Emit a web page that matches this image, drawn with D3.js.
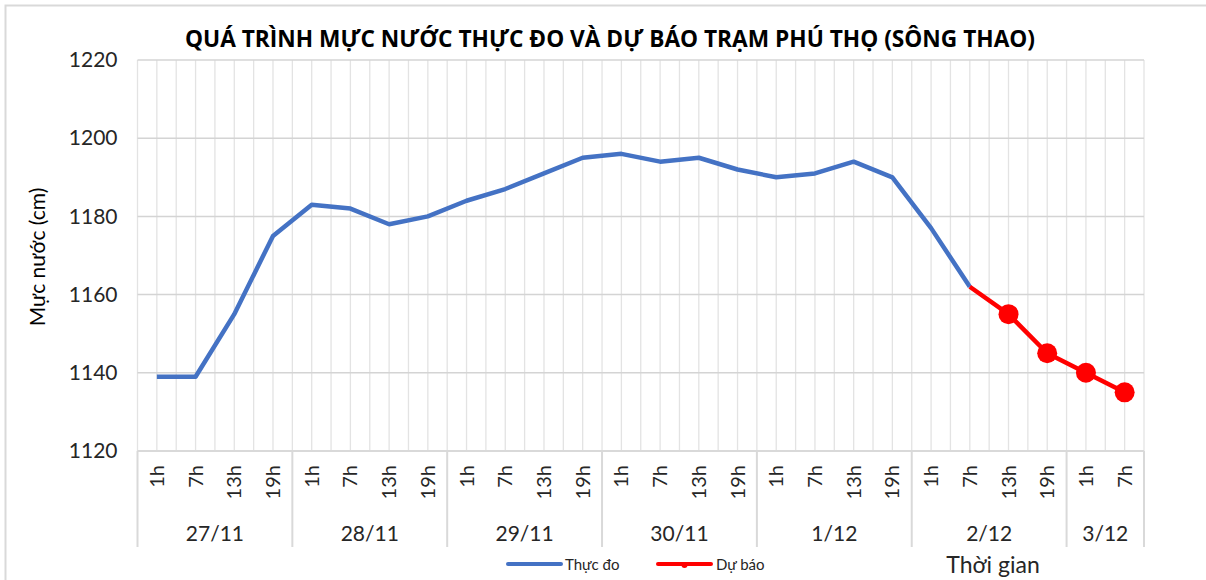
<!DOCTYPE html>
<html>
<head>
<meta charset="utf-8">
<script src="https://cdn.jsdelivr.net/npm/d3@7"></script>
<style>
  body { margin: 0; background: #fff; }
  text { fill: #262626; }
</style>
</head>
<body>
<script>
// Data
const days = ["27/11", "28/11", "29/11", "30/11", "1/12", "2/12", "3/12"];
const hoursPerDay = [4, 4, 4, 4, 4, 4, 2];
const hours = ["1h", "7h", "13h", "19h"];
const measured = [1139, 1139, 1155, 1175, 1183, 1182, 1178, 1180, 1184, 1187, 1191, 1195,
  1196, 1194, 1195, 1192, 1190, 1191, 1194, 1190, 1177, 1162];
const forecastStart = 21;
const forecast = [1162, 1155, 1145, 1140, 1135];
const yTicks = [1120, 1140, 1160, 1180, 1200, 1220];

// Build categories
const cats = [];
days.forEach((d, i) => {
  for (let h = 0; h < hoursPerDay[i]; h++) cats.push({ key: d + " " + hours[h], day: d, hour: hours[h] });
});

const W = 1206, H = 580;
const plotL = 137.5, plotR = 1144, plotT = 60, plotB = 451;

const svg = d3.select("body").append("svg")
  .attr("width", W).attr("height", H)
  .style("font-family", "Lato, 'Liberation Sans', sans-serif");

// Outer frame (top and left edges visible)
svg.append("path")
  .attr("d", `M5.5,${H + 2}V5.5H${W + 2}`)
  .attr("fill", "none").attr("stroke", "#d9d9d9").attr("stroke-width", 2);

const x = d3.scaleBand().domain(cats.map(c => c.key)).range([plotL, plotR]).padding(0);
const y = d3.scaleLinear().domain([1120, 1220]).range([plotB, plotT]);
const xc = k => x(k) + x.bandwidth() / 2;

// Vertical gridlines at boundaries and centres
const vlines = [];
cats.forEach(c => { vlines.push(x(c.key)); vlines.push(xc(c.key)); });
vlines.push(plotR);
svg.append("g").selectAll("line").data(vlines).join("line")
  .attr("x1", d => d).attr("x2", d => d)
  .attr("y1", plotT).attr("y2", plotB)
  .attr("stroke", "#e3e3e3").attr("stroke-width", 1.3);

// Horizontal gridlines
svg.append("g").selectAll("line").data(yTicks.filter(v => v > 1120)).join("line")
  .attr("x1", plotL).attr("x2", plotR)
  .attr("y1", d => y(d)).attr("y2", d => y(d))
  .attr("stroke", "#d4d4d4").attr("stroke-width", 1.5);

// Y axis labels
const yAxis = d3.axisLeft(y).tickValues(yTicks).tickSize(0).tickPadding(20).tickFormat(d3.format("d"));
const gy = svg.append("g").attr("transform", `translate(${plotL},0)`).call(yAxis);
gy.select(".domain").remove();
gy.selectAll("text").attr("font-size", 21).attr("fill", "#262626").style("font-family", "Lato, sans-serif");

// Category axis line
svg.append("line")
  .attr("x1", plotL).attr("x2", plotR).attr("y1", plotB).attr("y2", plotB)
  .attr("stroke", "#d9d9d9").attr("stroke-width", 2);

// Hour labels
const xAxis = d3.axisBottom(x).tickSize(0).tickFormat(k => cats.find(c => c.key === k).hour);
const gx = svg.append("g").attr("transform", `translate(0,${plotB})`).call(xAxis);
gx.select(".domain").remove();
gx.selectAll("text")
  .attr("font-size", 20).attr("fill", "#262626")
  .style("font-family", "Lato, sans-serif")
  .attr("text-anchor", "end")
  .attr("transform", "rotate(-90)")
  .attr("x", -14).attr("y", 0).attr("dy", "0.35em");

// Day groups: separators and labels
let idx = 0;
const groups = days.map((d, i) => {
  const first = cats[idx].key, last = cats[idx + hoursPerDay[i] - 1].key;
  idx += hoursPerDay[i];
  return { day: d, x0: x(first), x1: x(last) + x.bandwidth() };
});
const seps = [groups[0].x0].concat(groups.map(g => g.x1));
svg.append("g").selectAll("line").data(seps).join("line")
  .attr("x1", d => d).attr("x2", d => d)
  .attr("y1", plotB).attr("y2", 547)
  .attr("stroke", "#d9d9d9").attr("stroke-width", 2);
svg.append("g").selectAll("text").data(groups).join("text")
  .attr("x", g => (g.x0 + g.x1) / 2).attr("y", 541)
  .attr("text-anchor", "middle").attr("font-size", 21)
  .text(g => g.day);

// Lines
const line = d3.line().x(d => xc(d.key)).y(d => y(d.v));
const measuredPts = measured.map((v, i) => ({ key: cats[i].key, v }));
const forecastPts = forecast.map((v, i) => ({ key: cats[forecastStart + i].key, v }));

svg.append("path").datum(measuredPts)
  .attr("d", line).attr("fill", "none")
  .attr("stroke", "#4472c4").attr("stroke-width", 4.5).attr("stroke-linejoin", "round");
svg.append("path").datum(forecastPts)
  .attr("d", line).attr("fill", "none")
  .attr("stroke", "#ff0000").attr("stroke-width", 4.5).attr("stroke-linejoin", "round");
svg.append("g").selectAll("circle").data(forecastPts.slice(1)).join("circle")
  .attr("cx", d => xc(d.key)).attr("cy", d => y(d.v)).attr("r", 10)
  .attr("fill", "#ff0000");

// Title
svg.append("text")
  .attr("x", 610).attr("y", 47).attr("text-anchor", "middle")
  .attr("font-size", 22.7).attr("font-weight", "bold")
  .style("font-family", "'Open Sans', sans-serif").style("fill", "#000")
  .text("QUÁ TRÌNH MỰC NƯỚC THỰC ĐO VÀ DỰ BÁO TRẠM PHÚ THỌ (SÔNG THAO)");

// Y axis title
svg.append("text")
  .attr("transform", "translate(45,257) rotate(-90)")
  .attr("text-anchor", "middle").attr("font-size", 21)
  .style("fill", "#000")
  .text("Mực nước (cm)");

// X axis title
svg.append("text")
  .attr("x", 993).attr("y", 573).attr("text-anchor", "middle")
  .attr("font-size", 23)
  .text("Thời gian");

// Legend
const legend = svg.append("g").attr("transform", "translate(0,564)");
legend.append("line").attr("x1", 508).attr("x2", 561).attr("y1", 0).attr("y2", 0)
  .attr("stroke", "#4472c4").attr("stroke-width", 4).attr("stroke-linecap", "round");
legend.append("text").attr("x", 565).attr("y", 5.5).attr("font-size", 15).text("Thực đo");
legend.append("line").attr("x1", 658).attr("x2", 711).attr("y1", 0).attr("y2", 0)
  .attr("stroke", "#ff0000").attr("stroke-width", 4).attr("stroke-linecap", "round");
legend.append("circle").attr("cx", 684.5).attr("cy", 1).attr("r", 3).attr("fill", "#ff0000");
legend.append("text").attr("x", 716).attr("y", 5.5).attr("font-size", 15).text("Dự báo");
</script>
</body>
</html>
